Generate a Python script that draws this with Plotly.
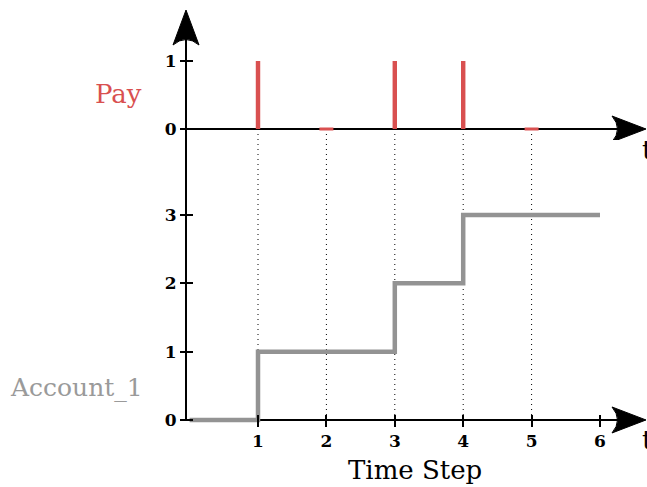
import plotly.graph_objects as go

# ---- data ----
pay_times = [1, 2, 3, 4, 5]
pay_values = [1, 0, 1, 1, 0]
acct_times = [0, 1, 2, 3, 4, 5, 6]
acct_values = [0, 1, 1, 2, 3, 3, 3]
x_ticks = [1, 2, 3, 4, 5, 6]
pay_ticks = [0, 1]
acct_ticks = [0, 1, 2, 3]

RED = "#d95050"
GREY = "#939393"
GREY_TXT = "#9a9a9a"
FONT = "DejaVu Serif"

W, H = 647, 487
L = 186
PW = W - L


def px_x(p):
    return (p - L) / PW


def px_y(p):
    return (H - p) / H


fig = go.Figure()

# Pay impulses
fig.add_trace(go.Bar(x=pay_times, y=pay_values, width=0.065, marker_color=RED,
                     marker_line_width=0, xaxis="x", yaxis="y2", showlegend=False))
zero_x = [t for t, v in zip(pay_times, pay_values) if v == 0]
fig.add_trace(go.Scatter(x=zero_x, y=[0] * len(zero_x), mode="markers",
                         marker=dict(symbol="line-ew", size=10,
                                     line=dict(color=RED, width=3)),
                         xaxis="x", yaxis="y2", showlegend=False))

# Account step line
fig.add_trace(go.Scatter(x=acct_times, y=acct_values, mode="lines",
                         line=dict(color=GREY, width=4.5, shape="hv"),
                         xaxis="x", yaxis="y", showlegend=False))

shapes = []
# dotted guides at pay times
for t in pay_times:
    shapes.append(dict(type="line", xref="x", yref="paper", x0=t, x1=t,
                       y0=px_y(420), y1=px_y(129), layer="below",
                       line=dict(color="black", width=1, dash="1px,4px")))
# axis lines
shapes.append(dict(type="line", xref="paper", yref="paper", x0=0, x1=0,
                   y0=px_y(421), y1=px_y(25), layer="below",
                   line=dict(color="black", width=2)))
shapes.append(dict(type="line", xref="paper", yref="y2", x0=0, x1=px_x(625),
                   y0=0, y1=0, layer="below", line=dict(color="black", width=2)))
shapes.append(dict(type="line", xref="paper", yref="y", x0=0, x1=px_x(625),
                   y0=0, y1=0, layer="below", line=dict(color="black", width=2)))
# arrow heads
harrow = "M0,0 L-34,13 Q-23,0 -34,-13 Z"
for yr in ("y2", "y"):
    shapes.append(dict(type="path", xref="paper", yref=yr,
                       xsizemode="pixel", ysizemode="pixel",
                       xanchor=px_x(646), yanchor=0, path=harrow,
                       fillcolor="black", line=dict(color="black", width=1)))
varrow = "M0,0 L-13,-35 Q0,-24 13,-35 Z"
shapes.append(dict(type="path", xref="paper", yref="paper",
                   xsizemode="pixel", ysizemode="pixel",
                   xanchor=0, yanchor=px_y(10), path=varrow,
                   fillcolor="black", line=dict(color="black", width=1)))


def ann(text, x, y, size, color, xanchor="center"):
    return dict(text=text, x=px_x(x), y=px_y(y), xref="paper", yref="paper",
                xanchor=xanchor, yanchor="middle", showarrow=False,
                font=dict(family=FONT, size=size, color=color))


annotations = [
    ann("Pay", 118, 94, 26, RED),
    ann("Account_1", 76, 387, 25, GREY_TXT),
    ann("Time Step", 415, 470, 26, "black"),
    ann("t", 640, 150, 26, "black", "left"),
    ann("t", 640, 440, 26, "black", "left"),
]

tickfont = dict(family=FONT, size=17, color="black", weight="bold")

ppu = 68.4
x0 = -3.6 / ppu
fig.update_layout(
    width=W, height=H, autosize=False,
    margin=dict(l=L, r=0, t=0, b=0, autoexpand=False),
    plot_bgcolor="white", paper_bgcolor="white",
    showlegend=False,
    shapes=shapes, annotations=annotations,
    xaxis=dict(domain=[0, 1], range=[x0, x0 + PW / ppu], anchor="free",
               position=px_y(414), tickvals=x_ticks, ticks="outside", ticklen=12,
               tickwidth=2, tickcolor="black", showline=False, showgrid=False,
               zeroline=False, tickfont=tickfont, automargin=False),
    yaxis=dict(domain=[0, px_y(200)], range=[-(487 - 420) / 68.3, 3 + 15 / 68.3],
               anchor="free", position=px_x(193), tickvals=acct_ticks,
               ticks="outside", ticklen=13, tickwidth=2, tickcolor="black",
               showline=False, showgrid=False, zeroline=False, tickfont=tickfont,
               automargin=False),
    yaxis2=dict(domain=[px_y(140), 1], range=[-(140 - 129) / 68.0, 1 + 61 / 68.0],
                anchor="free", position=px_x(193), tickvals=pay_ticks,
                ticks="outside", ticklen=13, tickwidth=2, tickcolor="black",
                showline=False, showgrid=False, zeroline=False, tickfont=tickfont,
                automargin=False),
)

fig.write_html("out.html", config={"displayModeBar": False},
               post_script="document.body.style.margin='0px';document.body.style.overflow='hidden';")
